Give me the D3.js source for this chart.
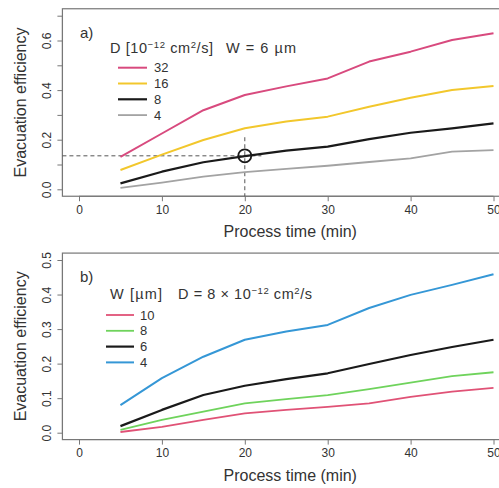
<!DOCTYPE html>
<html><head><meta charset="utf-8">
<script src="https://cdn.jsdelivr.net/npm/d3@7"></script>
<style>body{margin:0;background:#fff}svg{display:block;font-family:"Liberation Sans",Arial,sans-serif}</style>
</head><body><svg id="c" width="499" height="488"></svg>
<script>
// ---- data ----
const timesA = [5, 10, 15, 20, 25, 30, 35, 40, 45, 50];
const d32 = [0.131, 0.225, 0.319, 0.380, 0.415, 0.447, 0.515, 0.555, 0.602, 0.629];
const d16 = [0.078, 0.140, 0.199, 0.246, 0.273, 0.293, 0.333, 0.369, 0.400, 0.417];
const d8  = [0.024, 0.071, 0.109, 0.134, 0.156, 0.172, 0.202, 0.228, 0.246, 0.266];
const d4  = [0.006, 0.027, 0.051, 0.069, 0.082, 0.095, 0.110, 0.125, 0.152, 0.158];
const labelsA = ["32", "16", "8", "4"];
const timesB = [5, 10, 15, 20, 25, 30, 35, 40, 45, 50];
const w10 = [0.002, 0.017, 0.037, 0.056, 0.066, 0.075, 0.085, 0.104, 0.119, 0.130];
const w8  = [0.008, 0.037, 0.061, 0.085, 0.097, 0.109, 0.126, 0.145, 0.164, 0.175];
const w6  = [0.019, 0.066, 0.109, 0.136, 0.155, 0.172, 0.199, 0.225, 0.248, 0.269];
const w4  = [0.080, 0.158, 0.220, 0.269, 0.293, 0.312, 0.361, 0.399, 0.428, 0.459];
const labelsB = ["10", "8", "6", "4"];
const xTicks = [0, 10, 20, 30, 40, 50];
const yTicksA = [0, 0.1, 0.2, 0.3, 0.4, 0.5, 0.6, 0.7];
const yLabelsA = [0, 0.2, 0.4, 0.6];
const yTicksB = [0, 0.1, 0.2, 0.3, 0.4, 0.5];
const marker = {t: 20, e: 0.135, vTop: 0.21};

const svg = d3.select("#c");
const x = d3.scaleLinear().domain([0, 50]).range([79, 493.5]);
const textCol = "#333";

function panel(cfg) {
  const y = d3.scaleLinear().domain(cfg.ydom).range(cfg.yrange);
  const pad = (cfg.ydom[1] - cfg.ydom[0]) * 0.04;
  const g = svg.append("g");
  const bx0 = x(-2), bx1 = x(52), by0 = y(cfg.ydom[1] + pad), by1 = y(cfg.ydom[0] - pad);
  g.append("rect").attr("x", bx0).attr("y", by0).attr("width", bx1 - bx0).attr("height", by1 - by0)
    .attr("fill", "none").attr("stroke", "#777").attr("stroke-width", 1.2);
  const xa = g.append("g").attr("transform", `translate(0,${by1})`)
    .call(d3.axisBottom(x).tickValues(xTicks).tickSize(5).tickPadding(4).tickFormat(d3.format("d")));
  xa.select(".domain").attr("stroke", "#777").attr("d", `M${x(0)},0H${x(50)}`);
  xa.selectAll(".tick line").attr("stroke", "#777");
  xa.selectAll(".tick text").attr("font-size", 12).attr("fill", textCol).attr("font-family", "Liberation Sans, Arial, sans-serif");
  const ya = g.append("g").attr("transform", `translate(${bx0},0)`)
    .call(d3.axisLeft(y).tickValues(cfg.yticks).tickSize(5).tickFormat(d => cfg.ylabels.some(v => Math.abs(v - d) < 1e-9) ? d3.format(".1f")(d) : ""));
  ya.select(".domain").attr("stroke", "#777").attr("d", `M0,${y(cfg.yticks[0])}V${y(cfg.yticks[cfg.yticks.length - 1])}`);
  ya.selectAll(".tick line").attr("stroke", "#777");
  ya.selectAll(".tick text").attr("font-size", 12).attr("fill", textCol)
    .attr("font-family", "Liberation Sans, Arial, sans-serif")
    .attr("x", null).attr("dy", null).attr("text-anchor", "middle")
    .attr("transform", "translate(-11,0) rotate(-90)");
  g.append("text").attr("x", (x(0) + x(50)) / 2 + 4).attr("y", by1 + 41).attr("text-anchor", "middle")
    .attr("font-size", 16).attr("fill", textCol).text("Process time (min)");
  g.append("text").attr("transform", `translate(26,${(by0 + by1) / 2}) rotate(-90)`).attr("text-anchor", "middle")
    .attr("font-size", 16).attr("fill", textCol).text("Evacuation efficiency");
  if (cfg.extra) cfg.extra(g, y);
  const line = d3.line().x((d, i) => x(cfg.times[i])).y(d => y(d));
  cfg.series.forEach(s => {
    g.append("path").datum(s.values).attr("d", line).attr("fill", "none")
      .attr("stroke", s.color).attr("stroke-width", s.w).attr("stroke-linejoin", "round");
  });
  g.append("text").attr("x", 80).attr("y", cfg.tagY).attr("font-size", 15).attr("fill", textCol).text(cfg.tag);
  cfg.legendTitle(g);
  cfg.series.forEach((s, i) => {
    const ly = cfg.leg.y0 + i * cfg.leg.dy;
    g.append("line").attr("x1", cfg.leg.x0).attr("x2", cfg.leg.x1).attr("y1", ly).attr("y2", ly)
      .attr("stroke", s.color).attr("stroke-width", s.w);
    g.append("text").attr("x", cfg.leg.tx).attr("y", ly + 4.5).attr("font-size", 13).attr("fill", textCol).text(s.label);
  });
}

function sup(t, s) {
  t.append("tspan").attr("baseline-shift", "super").attr("font-size", 9.5).text(s);
}
function legText(g, xx, yy, len) {
  return g.append("text").attr("x", xx).attr("y", yy).attr("font-size", 14.5).attr("fill", textCol)
    .attr("textLength", len).attr("lengthAdjust", "spacing");
}

panel({
  ydom: [0, 0.7], yrange: [189.3, 15.7], yticks: yTicksA, ylabels: yLabelsA, times: timesA,
  tag: "a)", tagY: 38,
  series: [
    {values: d32, color: "#d84a7e", w: 2, label: labelsA[0]},
    {values: d16, color: "#f2c72c", w: 2, label: labelsA[1]},
    {values: d8, color: "#1a1a1a", w: 2.2, label: labelsA[2]},
    {values: d4, color: "#a3a3a3", w: 1.8, label: labelsA[3]}
  ],
  leg: {x0: 118, x1: 147, tx: 154, y0: 67.7, dy: 15.8},
  legendTitle: g => {
    const t = legText(g, 110, 53, 103);
    t.append("tspan").text("D [10");
    sup(t, "−12");
    t.append("tspan").text(" cm");
    sup(t, "2");
    t.append("tspan").text("/s]");
    legText(g, 226, 53, 70).text("W = 6 µm");
  },
  extra: (g, y) => {
    const bx0 = x(-2), by1 = y(-0.028);
    g.append("line").attr("x1", bx0).attr("x2", x(marker.t + 2)).attr("y1", y(marker.e)).attr("y2", y(marker.e))
      .attr("stroke", "#555").attr("stroke-width", 1).attr("stroke-dasharray", "4,3");
    g.append("line").attr("x1", x(marker.t)).attr("x2", x(marker.t)).attr("y1", y(marker.vTop)).attr("y2", by1)
      .attr("stroke", "#555").attr("stroke-width", 1).attr("stroke-dasharray", "4,3");
    g.append("circle").attr("cx", x(marker.t)).attr("cy", y(marker.e)).attr("r", 6.5)
      .attr("fill", "none").attr("stroke", "#1a1a1a").attr("stroke-width", 1.8);
  }
});

panel({
  ydom: [0, 0.5], yrange: [432.7, 260], yticks: yTicksB, ylabels: yTicksB, times: timesB,
  tag: "b)", tagY: 282,
  series: [
    {values: w10, color: "#e05276", w: 1.8, label: labelsB[0]},
    {values: w8, color: "#6fd35c", w: 1.8, label: labelsB[1]},
    {values: w6, color: "#1a1a1a", w: 2.2, label: labelsB[2]},
    {values: w4, color: "#3597d6", w: 2, label: labelsB[3]}
  ],
  leg: {x0: 106, x1: 134, tx: 140, y0: 315, dy: 15.8},
  legendTitle: g => {
    legText(g, 110, 299, 52).text("W [µm]");
    const t = legText(g, 178, 299, 134);
    t.append("tspan").text("D = 8 × 10");
    sup(t, "−12");
    t.append("tspan").text(" cm");
    sup(t, "2");
    t.append("tspan").text("/s");
  }
});
</script></body></html>
